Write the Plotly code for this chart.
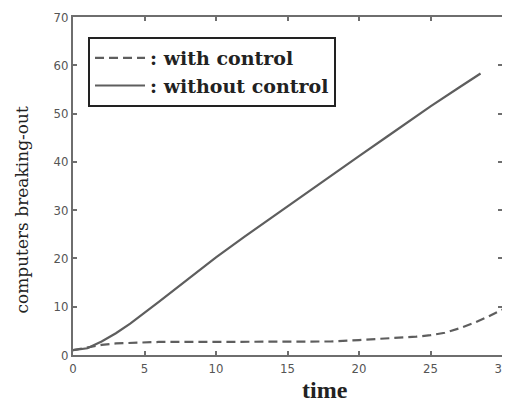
import plotly.graph_objects as go

t_without = [0, 1, 2, 3, 4, 5, 6, 8, 10, 12, 15, 18, 20, 22, 25, 27, 28.5]
y_without = [1.0, 1.4, 2.8, 4.5, 6.5, 8.7, 11.0, 15.6, 20.2, 24.5, 30.8, 37.0, 41.2, 45.3, 51.5, 55.4, 58.3]

t_with = [0, 1, 2, 3, 4, 5, 6, 8, 10, 15, 18, 20, 22, 24, 25, 26, 27, 28, 29, 30]
y_with = [1.0, 1.5, 2.1, 2.4, 2.5, 2.6, 2.7, 2.7, 2.7, 2.7, 2.8, 3.1, 3.4, 3.8, 4.1, 4.6, 5.5, 6.6, 7.9, 9.4]

line_color = "#5e5e5e"
axis_color = "#6e6e6e"

fig = go.Figure()
fig.add_trace(go.Scatter(x=t_with, y=y_with, mode="lines", name=": with control",
                         line=dict(color=line_color, width=2.2, dash="9px,5px")))
fig.add_trace(go.Scatter(x=t_without, y=y_without, mode="lines", name=": without control",
                         line=dict(color=line_color, width=2.2)))

axis_common = dict(showgrid=False, zeroline=False, showline=True, linecolor=axis_color,
                   linewidth=2, mirror="ticks", ticks="inside", ticklen=4, tickwidth=1.5,
                   tickcolor=axis_color, automargin=False, ticklabeloverflow="allow",
                   tickfont=dict(family="DejaVu Sans Condensed, DejaVu Sans", size=13, color="#555555"))

fig.update_layout(
    width=502, height=394,
    margin=dict(l=65, r=8, t=9, b=47),
    paper_bgcolor="white", plot_bgcolor="white",
    xaxis=dict(range=[0, 30], tickvals=[0, 5, 10, 15, 20, 25, 30], **axis_common),
    yaxis=dict(range=[0, 70], tickvals=[0, 10, 20, 30, 40, 50, 60, 70], **axis_common),
    legend=dict(x=0.035, y=0.941, xanchor="left", yanchor="top",
                bgcolor="white", bordercolor="#222222", borderwidth=2,
                itemwidth=50, tracegroupgap=0,
                font=dict(family="DejaVu Serif", size=19, color="#222222", weight="bold")),
    showlegend=True,
)
fig.add_annotation(text="time", xref="paper", yref="paper", x=0.587, y=-0.06,
                   xanchor="center", yanchor="top", showarrow=False,
                   font=dict(family="Liberation Serif", size=24, color="#222222", weight="bold"))
fig.add_annotation(text="computers breaking-out", xref="paper", yref="paper", x=-0.119, y=0.43,
                   xanchor="center", yanchor="middle", textangle=-90, showarrow=False,
                   font=dict(family="DejaVu Serif", size=17, color="#222222"))

fig.write_html("out.html")
